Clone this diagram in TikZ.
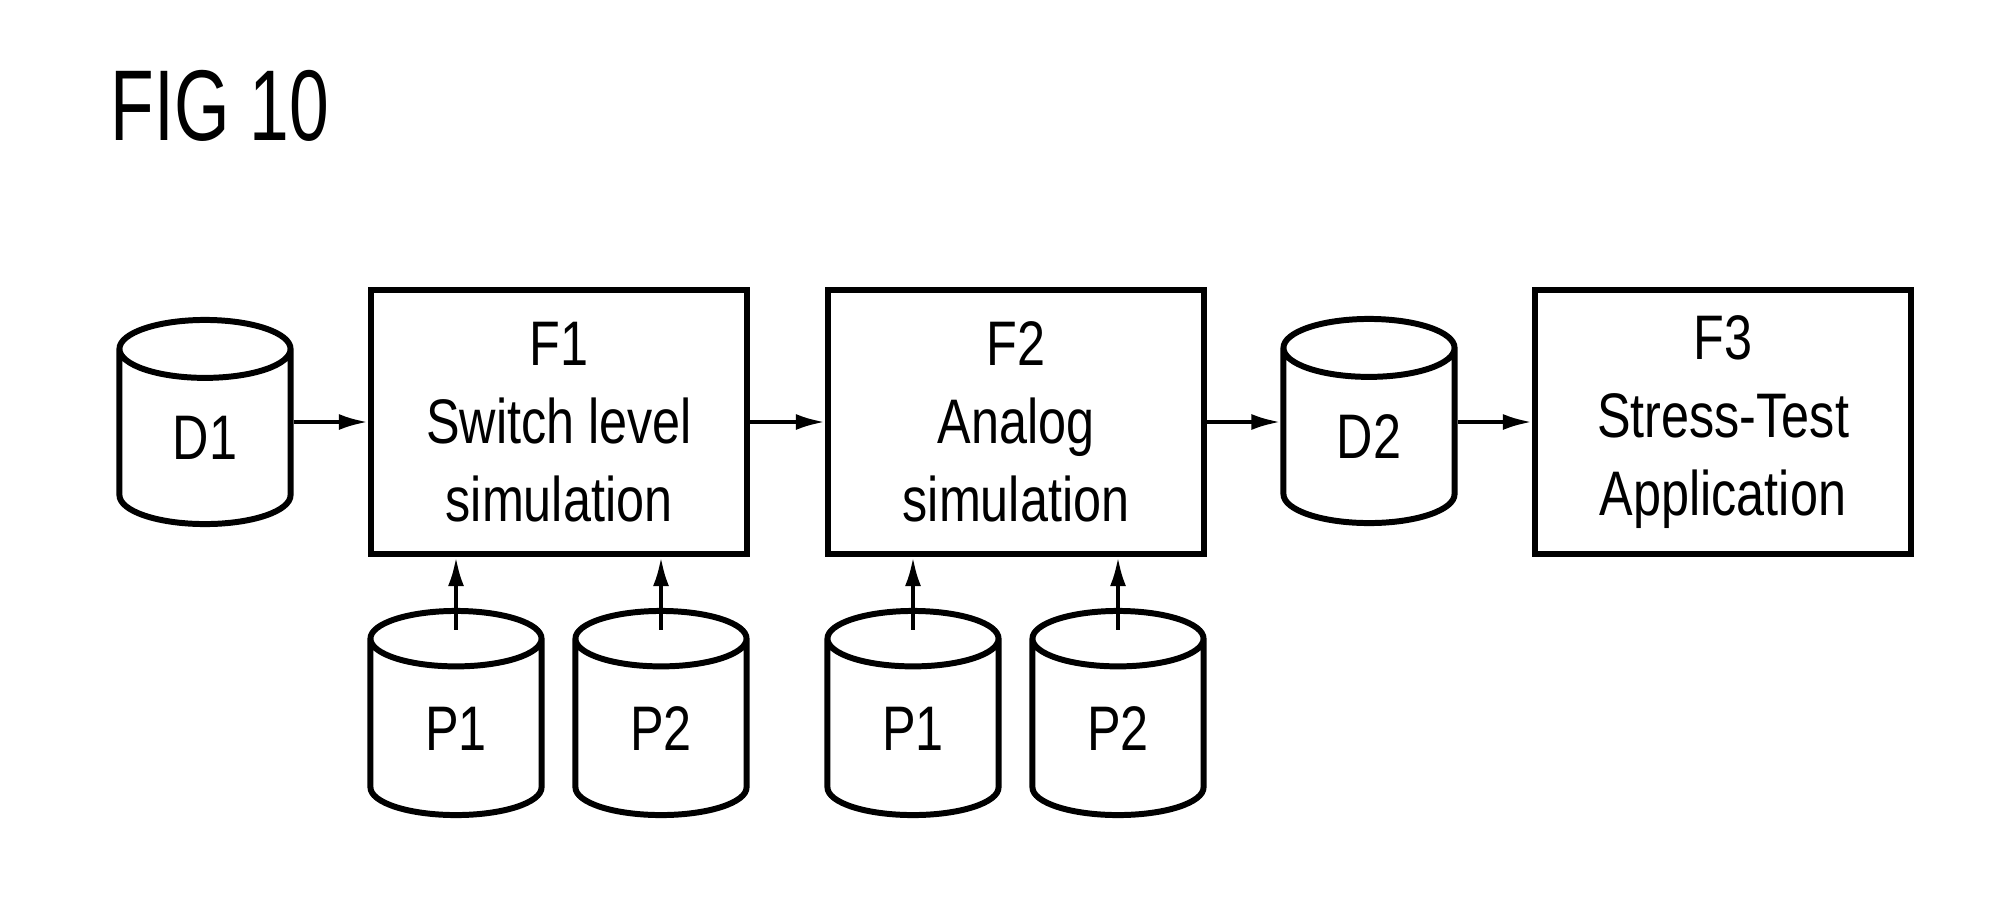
\documentclass[tikz,border=0pt]{standalone}
\usepackage{fontspec}
\setmainfont{Liberation Sans}[FakeStretch=0.8]
\newfontfamily\titlefont{Liberation Sans}[FakeStretch=0.71]
\usetikzlibrary{shapes,arrows.meta,positioning,calc}
\newcommand{\blocksize}{\fontsize{17.9}{22.2}\selectfont}
\newcommand{\figsize}{\titlefont\fontsize{28.6}{34}\selectfont}

\begin{document}
\begin{tikzpicture}[x=0.01cm, y=-0.01cm,
    block/.style={rectangle, draw, line width=1.7pt, minimum width=3.76cm, minimum height=2.64cm, align=center, font=\blocksize, inner sep=0pt},
    store/.style={cylinder, shape border rotate=90, draw, line width=1.7pt, aspect=0.9, minimum width=1.71cm, minimum height=2.04cm, font=\blocksize, inner sep=0pt, anchor=shape center},
    flow/.style={-{Latex[length=0.29cm,width=0.16cm]}, line width=1.1pt}
]
\useasboundingbox (0,0) rectangle (2007,897);

\node[anchor=base west, font=\figsize, inner sep=0pt] (title) at (110,140) {FIG 10};

% main chain
\node[store] (d1) at (205,422) {D1};
\node[block] (f1) at (559,422) {F1\\Switch level\\simulation};
\node[block] (f2) at (1016,422) {F2\\Analog\\simulation};
\node[store] (d2) at (1369,421) {D2};
\node[block] (f3) at (1723,422) {F3\\Stress-Test\\Application};

% parameter stores
\node[store] (p1a) at (456,713) {P1};
\node[store] (p2a) at (661,713) {P2};
\node[store] (p1b) at (913,713) {P1};
\node[store] (p2b) at (1118,713) {P2};

\draw[flow] (d1.east |- f1.west) -- (f1.west);
\draw[flow] (f1) -- (f2);
\draw[flow] (f2.east) -- (d2.west |- f2.east);
\draw[flow] (d2.east |- f3.west) -- (f3.west);

\draw[flow] ([yshift=-0.22cm]p1a.top) -- (p1a.top |- f1.south);
\draw[flow] ([yshift=-0.22cm]p2a.top) -- (p2a.top |- f1.south);
\draw[flow] ([yshift=-0.22cm]p1b.top) -- (p1b.top |- f2.south);
\draw[flow] ([yshift=-0.22cm]p2b.top) -- (p2b.top |- f2.south);

\end{tikzpicture}
\end{document}
